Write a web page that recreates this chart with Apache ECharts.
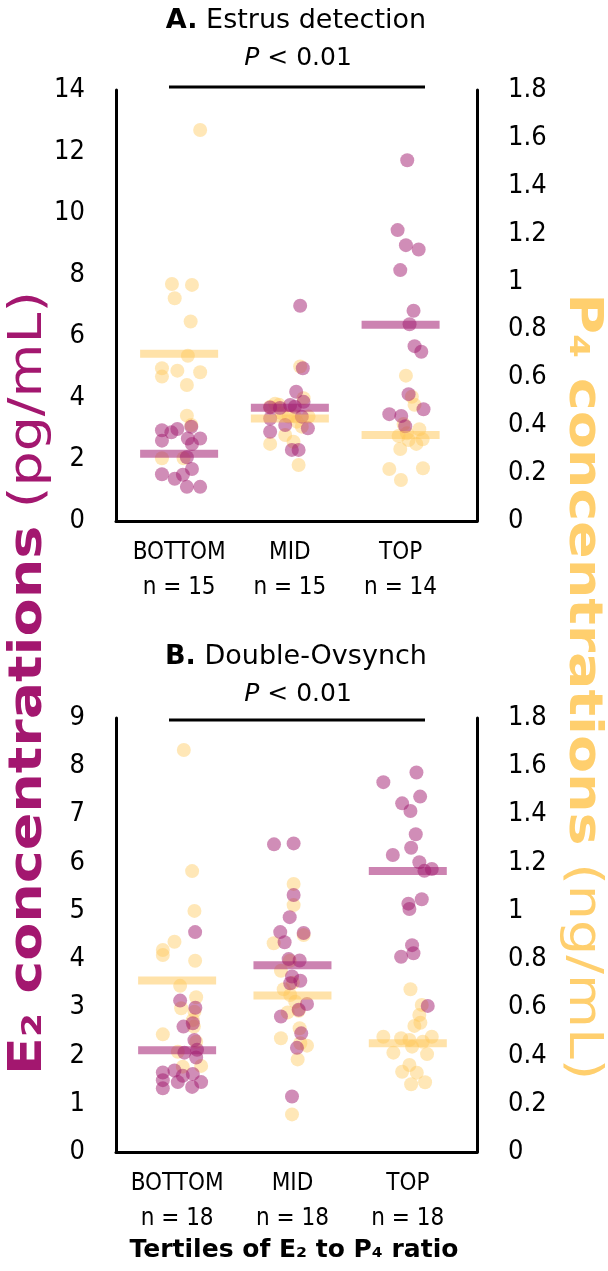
<!DOCTYPE html>
<html>
<head>
<meta charset="utf-8">
<script src="https://cdn.jsdelivr.net/npm/echarts/dist/echarts.min.js"></script>
<style>
  html, body { margin: 0; padding: 0; background: #fff; }
  #chart { width: 608px; height: 1271px; }
</style>
</head>
<body>
<div id="chart"></div>
<script>
// Tertile groups and their sizes
const tertiles = ['BOTTOM', 'MID', 'TOP'];
const estrusN = [15, 15, 14];
const ovsynchN = [18, 18, 18];

// Axis ranges [min, max, step]
const estrusE2Axis = [0, 14, 2];
const ovsynchE2Axis = [0, 9, 1];
const p4Axis = [0, 1.8, 0.2];

// A. Estrus detection — E2 (pg/mL) per tertile and horizontal spread within each swarm
const estrusE2 = [
  [2.95, 2.88, 2.99, 2.61, 2.68, 2.68, 2.50, 2.07, 1.69, 1.52, 1.37, 1.50, 1.11, 1.11, 3.06],
  [6.99, 4.96, 4.20, 3.87, 3.77, 3.69, 3.33, 3.12, 3.01, 2.90, 2.31, 2.31, 3.67, 3.71, 3.39],
  [11.72, 9.45, 8.96, 8.82, 8.15, 6.83, 6.39, 5.68, 5.50, 4.12, 3.63, 3.47, 3.41, 3.08]
];
const estrusE2Spread = [
  [-0.155, -0.07, -0.016, -0.155, 0.079, 0.19, 0.116, 0.07, 0.116, -0.155, -0.04, 0.034, 0.07, 0.19, 0.11],
  [0.093, 0.117, 0.057, 0.124, 0.003, -0.178, -0.178, -0.042, 0.163, -0.178, 0.018, 0.079, -0.09, 0.045, 0.108],
  [0.06, -0.027, 0.048, 0.163, -0.003, 0.117, 0.081, 0.126, 0.187, 0.072, 0.207, -0.102, 0.006, 0.042]
];

// A. Estrus detection — P4 (ng/mL)
const estrusP4 = [
  [1.633, 0.99, 0.986, 0.93, 0.833, 0.69, 0.638, 0.628, 0.621, 0.603, 0.568, 0.44, 0.401, 0.262, 0.262],
  [0.645, 0.513, 0.485, 0.477, 0.436, 0.436, 0.436, 0.394, 0.359, 0.322, 0.331, 0.234, 0.45, 0.49, 0.415],
  [0.607, 0.519, 0.485, 0.405, 0.383, 0.355, 0.338, 0.341, 0.322, 0.301, 0.217, 0.22, 0.171, 0.366]
];
const estrusP4Spread = [
  [0.19, -0.065, 0.116, -0.04, 0.104, 0.079, -0.155, -0.016, 0.19, -0.155, 0.07, 0.07, 0.11, -0.155, 0.04],
  [0.093, 0.124, -0.097, -0.178, 0.048, 0.169, -0.012, 0.108, -0.042, -0.178, 0.033, 0.079, -0.072, -0.133, 0.063],
  [0.048, 0.102, 0.126, 0.027, 0.169, -0.018, 0.072, 0.199, 0.142, -0.003, -0.102, 0.202, 0.003, 0.057]
];

// B. Double-Ovsynch — E2 (pg/mL)
const ovsynchE2 = [
  [4.56, 3.14, 2.99, 2.60, 2.67, 2.32, 2.06, 2.12, 1.96, 1.65, 1.69, 1.62, 1.49, 1.45, 1.45, 1.32, 1.35, 1.58],
  [6.38, 6.40, 5.33, 4.87, 4.56, 4.54, 4.35, 4.00, 3.97, 3.64, 3.55, 3.07, 2.81, 2.46, 2.16, 1.15, 3.50, 2.95],
  [7.87, 7.67, 7.37, 7.23, 7.07, 6.59, 6.31, 6.16, 6.01, 5.87, 5.83, 5.24, 5.15, 5.04, 4.29, 4.12, 4.05, 3.03]
];
const ovsynchE2Spread = [
  [0.156, 0.026, 0.158, 0.055, 0.136, 0.15, 0.063, 0.173, 0.165, -0.124, -0.023, 0.136, -0.124, 0.006, 0.208, -0.124, 0.13, 0.049],
  [-0.16, 0.01, 0.01, -0.024, -0.106, 0.097, -0.068, -0.033, 0.062, -0.004, 0.068, 0.126, -0.1, 0.076, 0.039, -0.004, -0.019, 0.054],
  [0.075, -0.212, 0.107, -0.049, 0.023, 0.069, 0.029, -0.13, 0.1, 0.208, 0.144, 0.121, 0.005, 0.014, 0.037, 0.049, -0.058, 0.173]
];

// B. Double-Ovsynch — P4 (ng/mL)
const ovsynchP4 = [
  [1.667, 1.165, 1.0, 0.872, 0.838, 0.817, 0.793, 0.689, 0.642, 0.596, 0.582, 0.52, 0.488, 0.457, 0.416, 0.357, 0.354, 0.547],
  [1.112, 1.024, 0.9, 0.866, 0.793, 0.752, 0.702, 0.675, 0.623, 0.579, 0.586, 0.513, 0.472, 0.441, 0.384, 0.156, 0.451, 0.651],
  [0.675, 0.61, 0.568, 0.536, 0.523, 0.478, 0.472, 0.465, 0.478, 0.437, 0.412, 0.406, 0.361, 0.333, 0.329, 0.281, 0.289, 0.457]
];
const ovsynchP4Spread = [
  [0.058, 0.13, 0.15, -0.023, -0.124, -0.124, 0.156, 0.026, 0.165, 0.035, 0.15, 0.145, -0.124, 0.165, 0.006, 0.208, 0.049, 0.136],
  [0.01, 0.01, 0.097, -0.163, -0.024, -0.1, 0.004, -0.076, 0.024, -0.042, 0.054, 0.062, -0.1, 0.126, 0.045, -0.004, 0.068, -0.019],
  [0.023, 0.121, 0.1, 0.109, 0.057, -0.212, -0.058, 0.014, 0.208, 0.037, -0.125, 0.167, 0.014, -0.049, 0.078, 0.029, 0.15, 0.13]
];

// ---- styling ----
const FONT = 'DejaVu Sans';
const FONT_C = 'DejaVu Sans Condensed';
const E2_DOT = 'rgba(160, 25, 110, 0.62)';
const P4_DOT = 'rgba(255, 200, 90, 0.55)';
const E2_BAR = 'rgba(160, 25, 110, 0.68)';
const P4_BAR = 'rgba(255, 196, 80, 0.62)';
const E2_TEXT = '#A3176F';
const P4_TEXT = '#FFCF6E';

function swarm(values, spread) {
  const out = [];
  values.forEach((grp, g) => grp.forEach((v, i) => out.push([g + 1 + spread[g][i], v])));
  return out;
}
function means(values) {
  return values.map((grp, g) => [g + 1, grp.reduce((s, v) => s + v, 0) / grp.length]);
}

function xAxis(gridIndex, min, max, counts) {
  return {
    type: 'value', gridIndex, min, max,
    axisLine: { show: true, onZero: false, lineStyle: { color: '#000', width: 3 } },
    axisTick: { show: false },
    splitLine: { show: false },
    axisLabel: {
      customValues: [1, 2, 3],
      margin: 14,
      fontSize: 24,
      lineHeight: 35,
      fontFamily: FONT_C,
      color: '#000',
      formatter: v => tertiles[Math.round(v) - 1] + '\nn = ' + counts[Math.round(v) - 1]
    }
  };
}
function yAxis(gridIndex, range, position) {
  return {
    type: 'value', gridIndex, position,
    min: range[0], max: range[1], interval: range[2],
    axisLine: { show: true, onZero: false, lineStyle: { color: '#000', width: 3 } },
    axisTick: { show: false },
    splitLine: { show: false },
    axisLabel: {
      margin: 31, fontSize: 27, fontFamily: FONT_C, color: '#000',
      formatter: v => String(Math.round(v * 10) / 10)
    }
  };
}
function dots(name, xi, yi, data, color) {
  return {
    name, type: 'scatter', xAxisIndex: xi, yAxisIndex: yi, data,
    symbol: 'circle', symbolSize: 14, silent: true,
    itemStyle: { color }
  };
}
function bars(name, xi, yi, data, color) {
  return {
    name, type: 'scatter', xAxisIndex: xi, yAxisIndex: yi, data,
    symbol: 'rect', symbolSize: [78, 8], silent: true, z: 3,
    itemStyle: { color }
  };
}
function heading(letter, rest, y) {
  return {
    type: 'text', x: 296, y,
    style: {
      text: '{b|' + letter + '} ' + rest,
      align: 'center', verticalAlign: 'middle',
      fontSize: 27, fontFamily: FONT, fill: '#000',
      rich: { b: { fontWeight: 'bold', fontSize: 27, fontFamily: FONT, fill: '#000' } }
    }
  };
}
function pLabel(y) {
  return {
    type: 'text', x: 298, y,
    style: {
      text: '{i|P} < 0.01',
      align: 'center', verticalAlign: 'middle',
      fontSize: 25, fontFamily: FONT, fill: '#000',
      rich: { i: { fontStyle: 'italic', fontSize: 25, fontFamily: FONT, fill: '#000' } }
    }
  };
}
function bracket(y) {
  return { type: 'line', shape: { x1: 169, y1: y, x2: 425, y2: y }, style: { stroke: '#000', lineWidth: 3 } };
}
// vertical axis title, stretched a little along its baseline
function sideTitle(x, y, rotation, main, unit, color) {
  return {
    type: 'text', x, y, rotation, scaleX: 1.18, scaleY: 1,
    style: {
      text: '{b|' + main + '} {r|' + unit + '}',
      align: 'center', verticalAlign: 'middle',
      fontSize: 47, fontFamily: FONT, fill: color,
      rich: {
        b: { fontWeight: 'bold', fontSize: 47, fontFamily: FONT, fill: color },
        r: { fontSize: 47, fontFamily: FONT, fill: color }
      }
    }
  };
}

const chart = echarts.init(document.getElementById('chart'), null, { renderer: 'canvas' });
chart.setOption({
  animation: false,
  backgroundColor: '#fff',
  grid: [
    { left: 116, right: 131, top: 90, height: 431 },
    { left: 116, right: 131, top: 718, height: 434 }
  ],
  xAxis: [
    xAxis(0, 0.43, 3.69, estrusN),
    xAxis(1, 0.47, 3.6, ovsynchN)
  ],
  yAxis: [
    yAxis(0, estrusE2Axis, 'left'),
    yAxis(0, p4Axis, 'right'),
    yAxis(1, ovsynchE2Axis, 'left'),
    yAxis(1, p4Axis, 'right')
  ],
  series: [
    dots('Estrus P4', 0, 1, swarm(estrusP4, estrusP4Spread), P4_DOT),
    dots('Estrus E2', 0, 0, swarm(estrusE2, estrusE2Spread), E2_DOT),
    bars('Estrus P4 mean', 0, 1, means(estrusP4), P4_BAR),
    bars('Estrus E2 mean', 0, 0, means(estrusE2), E2_BAR),
    dots('Ovsynch P4', 1, 3, swarm(ovsynchP4, ovsynchP4Spread), P4_DOT),
    dots('Ovsynch E2', 1, 2, swarm(ovsynchE2, ovsynchE2Spread), E2_DOT),
    bars('Ovsynch P4 mean', 1, 3, means(ovsynchP4), P4_BAR),
    bars('Ovsynch E2 mean', 1, 2, means(ovsynchE2), E2_BAR)
  ],
  graphic: [
    heading('A.', 'Estrus detection', 21),
    pLabel(58),
    bracket(87),
    heading('B.', 'Double-Ovsynch', 657),
    pLabel(694),
    bracket(720),
    {
      type: 'text', x: 294, y: 1250,
      style: {
        text: 'Tertiles of E₂ to P₄ ratio',
        align: 'center', verticalAlign: 'middle',
        fontSize: 25, fontWeight: 'bold', fontFamily: FONT, fill: '#000'
      }
    },
    sideTitle(29, 683, Math.PI / 2, 'E₂ concentrations', '(pg/mL)', E2_TEXT),
    sideTitle(582, 687, -Math.PI / 2, 'P₄ concentrations', '(ng/mL)', P4_TEXT)
  ]
});
</script>
</body>
</html>
